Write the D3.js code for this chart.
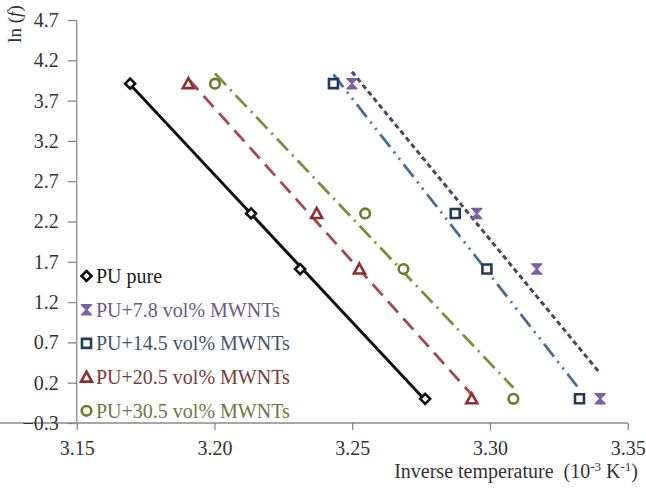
<!DOCTYPE html>
<html><head><meta charset="utf-8">
<script src="https://cdn.jsdelivr.net/npm/d3@7"></script>
<style>body{margin:0;background:#fff}svg{display:block}text{font-family:"Liberation Serif","Times New Roman",serif}</style>
</head><body><svg id="c" width="646" height="491"></svg>
<script>
const xTicks = [3.15, 3.20, 3.25, 3.30, 3.35];
const yTicks = [-0.3, 0.2, 0.7, 1.2, 1.7, 2.2, 2.7, 3.2, 3.7, 4.2, 4.7];
const lnF = [3.91, 2.30, 1.61, 0.00];
const xPure = [3.1694, 3.2133, 3.2311, 3.2765];
const x78 = [3.2499, 3.2952, 3.3170, 3.3400];
const x145 = [3.2432, 3.2874, 3.2989, 3.3325];
const x205 = [3.1905, 3.2371, 3.2526, 3.2934];
const x305 = [3.2002, 3.2547, 3.2686, 3.3085];
const names = ["PU pure", "PU+7.8 vol% MWNTs", "PU+14.5 vol% MWNTs", "PU+20.5 vol% MWNTs", "PU+30.5 vol% MWNTs"];

const series = [
  {name:names[0], xs:xPure, mark:"diamond", mc:"#111", lc:"#111", tc:"#1a1a1a", dash:null, lw:3},
  {name:names[1], xs:x78, mark:"hourglass", mc:"#7d5fa5", lc:"#474760", tc:"#6b5b85", dash:"5,3.5", lw:3},
  {name:names[2], xs:x145, mark:"square", mc:"#1f3a5a", lc:"#4a6e8e", tc:"#40566e", dash:"16,6,2,6,2,6", lw:2.8},
  {name:names[3], xs:x205, mark:"triangle", mc:"#8e2f2f", lc:"#a44a4a", tc:"#7a3a3a", dash:"15,8", lw:2.8},
  {name:names[4], xs:x305, mark:"circle", mc:"#6c7a2a", lc:"#7e8c3e", tc:"#6f7545", dash:"16,6,2,6", lw:2.8}
];

const svg = d3.select("#c");
const x = d3.scaleLinear().domain([3.15, 3.35]).range([76.7, 627.7]);
const y = d3.scaleLinear().domain([-0.3, 4.7]).range([423, 20]);

const axisColor = "#8a8a8a";
const gx = svg.append("g").attr("transform", "translate(0,423)")
  .call(d3.axisBottom(x).tickValues(xTicks).tickFormat(d3.format(".2f")).tickSize(7).tickPadding(11));
const gy = svg.append("g").attr("transform", "translate(76.7,0)")
  .call(d3.axisLeft(y).tickValues(yTicks).tickFormat(d3.format(".1f")).tickSize(9).tickPadding(9));
[gx, gy].forEach(g => {
  g.attr("font-family", null);
  g.select(".domain").attr("stroke", axisColor).attr("stroke-width", 1.3);
  g.selectAll(".tick line").attr("stroke", axisColor).attr("stroke-width", 1.3);
  g.selectAll(".tick text").attr("fill", "#333").style("font-size", "20px").style("font-family", "'Liberation Serif', serif");
});
gy.select(".domain").attr("d", "M0,20V423");
gx.select(".domain").attr("d", "M0,0H627.7");

function markPath(type) {
  switch (type) {
    case "diamond": return "M0,-5L5,0L0,5L-5,0Z";
    case "square": return "M-4.5,-4.5H4.5V4.5H-4.5Z";
    case "triangle": return "M0,-5.5L5.5,4.5H-5.5Z";
    case "hourglass": return "M-5,-5H5L0,0L5,5H-5L0,0Z";
    default: return null;
  }
}

series.forEach(s => {
  const pts = s.xs.map((v, i) => [v, lnF[i]]);
  const mx = d3.mean(pts, d => d[0]), my = d3.mean(pts, d => d[1]);
  const sxy = d3.sum(pts, d => (d[0]-mx)*(d[1]-my));
  const sxx = d3.sum(pts, d => (d[0]-mx)*(d[0]-mx));
  const b = sxy / sxx, a = my - b*mx;
  const [x0, x1] = d3.extent(s.xs);
  const line = d3.line().x(d => x(d[0])).y(d => y(d[1]));
  svg.append("path").attr("d", line([[x0, a + b*x0], [x1, a + b*x1]]))
    .attr("fill", "none").attr("stroke", s.lc).attr("stroke-width", s.lw)
    .attr("stroke-dasharray", s.dash);
});

function drawMark(g, s, cx, cy) {
  if (s.mark === "circle") {
    g.append("circle").attr("cx", cx).attr("cy", cy).attr("r", 4.8)
      .attr("fill", "#fff").attr("stroke", s.mc).attr("stroke-width", 2.6);
  } else if (s.mark === "hourglass") {
    g.append("path").attr("d", markPath(s.mark)).attr("transform", `translate(${cx},${cy})`)
      .attr("fill", s.mc).attr("stroke", s.mc).attr("stroke-width", 1.5).attr("stroke-linejoin", "round");
  } else {
    g.append("path").attr("d", markPath(s.mark)).attr("transform", `translate(${cx},${cy})`)
      .attr("fill", "#fff").attr("stroke", s.mc).attr("stroke-width", 2.6).attr("stroke-linejoin", "miter");
  }
}

series.forEach(s => {
  const g = svg.append("g");
  s.xs.forEach((v, i) => drawMark(g, s, x(v), y(lnF[i])));
});

series.forEach((s, i) => {
  const cy = 276 + i * 33.7;
  const g = svg.append("g");
  drawMark(g, s, 86.5, cy);
  g.append("text").attr("x", 96).attr("y", cy + 7).text(s.name)
    .attr("fill", s.tc).style("font-size", "20px");
});

const xt = svg.append("text").attr("x", 638).attr("y", 478).attr("text-anchor", "end")
  .attr("fill", "#333").style("font-size", "20px").attr("xml:space", "preserve");
xt.append("tspan").text("Inverse temperature  (10");
xt.append("tspan").text("-3").style("font-size", "13px").attr("dy", -7);
xt.append("tspan").text(" K").attr("dy", 7);
xt.append("tspan").text("-1").style("font-size", "13px").attr("dy", -7);
xt.append("tspan").text(")").attr("dy", 7);

const yt = svg.append("text").attr("transform", "translate(21,24) rotate(-90)").attr("text-anchor", "middle")
  .attr("fill", "#333").style("font-size", "19px");
yt.append("tspan").text("ln (");
yt.append("tspan").text("f").style("font-style", "italic");
yt.append("tspan").text(")");
</script></body></html>
